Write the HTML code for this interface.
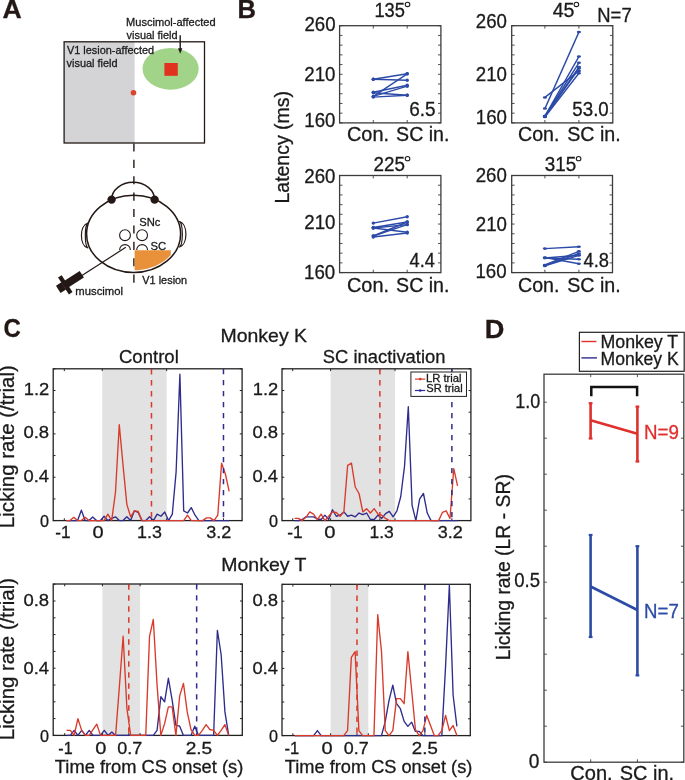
<!DOCTYPE html>
<html><head><meta charset="utf-8"><style>
html,body{margin:0;padding:0;background:#fff;}
svg{display:block;will-change:transform;}
text{font-family:"Liberation Sans",sans-serif;stroke-width:0.3px;}
</style></head><body>
<svg width="685" height="780" viewBox="0 0 685 780">
<rect width="685" height="780" fill="#fff"/>
<text x="2.54" y="17.8" font-size="25.5" fill="#231815" stroke="#231815" font-weight="bold" textLength="19.19" lengthAdjust="spacingAndGlyphs">A</text>
<rect x="64.1" y="41.8" width="70.5" height="101.2" fill="#d4d4d7"/>
<rect x="64.1" y="41.8" width="140.4" height="101.2" fill="none" stroke="#231815" stroke-width="1.3"/>
<ellipse cx="170.6" cy="68.8" rx="28.1" ry="20.9" fill="#a1d488"/>
<rect x="164.4" y="63" width="13.4" height="12.8" fill="#e0321f"/>
<circle cx="133.5" cy="92.7" r="2.8" fill="#d9452a"/>
<text x="66.95" y="54.2" font-size="11.6" fill="#1a1a1a" stroke="#1a1a1a" textLength="87.19" lengthAdjust="spacingAndGlyphs">V1 lesion-affected</text>
<text x="66.55" y="66.7" font-size="11.6" fill="#1a1a1a" stroke="#1a1a1a" textLength="51.06" lengthAdjust="spacingAndGlyphs">visual field</text>
<text x="126.12" y="26.2" font-size="11.6" fill="#1a1a1a" stroke="#1a1a1a" textLength="89.51" lengthAdjust="spacingAndGlyphs">Muscimol-affected</text>
<text x="126.55" y="38.7" font-size="11.6" fill="#1a1a1a" stroke="#1a1a1a" textLength="51.06" lengthAdjust="spacingAndGlyphs">visual field</text>
<line x1="180.2" y1="35.3" x2="180.2" y2="49" stroke="#231815" stroke-width="1.4"/>
<path d="M178.0,48.3 L182.4,48.3 L180.2,53.8 Z" fill="#231815"/>
<line x1="133.9" y1="143.4" x2="133.9" y2="282.9" stroke="#231815" stroke-width="1.4" stroke-dasharray="8.1 8.3"/>
<path d="M111.6,199.6 A21.5,17.3 0 0 1 154.6,199.6" fill="none" stroke="#231815" stroke-width="1.4"/>
<ellipse cx="133.6" cy="233.9" rx="47.0" ry="38.6" fill="none" stroke="#231815" stroke-width="1.5"/>
<path d="M87.8,223 C79.3,225.5 79.3,245.5 87.8,248 C84.5,245.5 84.5,225.5 87.8,223 Z" fill="none" stroke="#231815" stroke-width="1.2" stroke-linejoin="round"/>
<path d="M179.6,221.5 C188.0,224 188.0,244.5 179.6,247 C183.2,244.5 183.2,224 179.6,221.5 Z" fill="none" stroke="#231815" stroke-width="1.2" stroke-linejoin="round"/>
<circle cx="111.6" cy="199.6" r="4.2" fill="#231815"/>
<circle cx="154.6" cy="199.6" r="4.2" fill="#231815"/>
<path d="M134.60,250.20 L170.80,250.20 L170.80,254.95 L170.18,255.64 L169.53,256.31 L168.87,256.97 L168.18,257.62 L167.48,258.26 L166.76,258.88 L166.02,259.50 L165.27,260.09 L164.49,260.67 L163.70,261.24 L162.90,261.79 L162.08,262.33 L161.24,262.85 L160.39,263.36 L159.52,263.85 L158.64,264.32 L157.74,264.78 L156.83,265.22 L155.91,265.64 L154.98,266.05 L154.04,266.44 L153.08,266.81 L152.11,267.16 L151.14,267.50 L150.15,267.82 L149.16,268.12 L148.16,268.40 L147.14,268.66 L146.13,268.90 L145.10,269.12 L144.07,269.33 L143.03,269.51 L141.99,269.68 L140.94,269.82 L139.89,269.95 L138.84,270.06 L137.78,270.15 L136.72,270.21 L135.66,270.26 L134.60,270.29 Z" fill="#e8913a"/>
<circle cx="125.0" cy="235.2" r="5.4" fill="none" stroke="#231815" stroke-width="1.1"/>
<path d="M119.60,250.0 A5.4,5.4 0 0 1 130.40,250.0" fill="none" stroke="#231815" stroke-width="1.1"/>
<circle cx="142.1" cy="235.2" r="5.4" fill="none" stroke="#231815" stroke-width="1.1"/>
<path d="M136.70,250.0 A5.4,5.4 0 0 1 147.50,250.0" fill="none" stroke="#231815" stroke-width="1.1"/>
<line x1="125.8" y1="247.3" x2="80" y2="276.8" stroke="#231815" stroke-width="1.2"/>
<g transform="translate(81.8,274.2) rotate(147.2)" fill="#231815">
<rect x="0" y="-3.9" width="19.5" height="7.8"/>
<rect x="17.5" y="-10" width="4.3" height="20"/>
<rect x="21.5" y="-4.2" width="6.5" height="8.4"/>
</g>
<text x="139.20" y="225.8" font-size="11.0" fill="#1a1a1a" stroke="#1a1a1a" textLength="21.18" lengthAdjust="spacingAndGlyphs">SNc</text>
<text x="150.59" y="249.5" font-size="11.0" fill="#1a1a1a" stroke="#1a1a1a" textLength="15.65" lengthAdjust="spacingAndGlyphs">SC</text>
<text x="142.35" y="283.6" font-size="11.0" fill="#1a1a1a" stroke="#1a1a1a" textLength="44.85" lengthAdjust="spacingAndGlyphs">V1 lesion</text>
<text x="75.37" y="294.7" font-size="11.0" fill="#1a1a1a" stroke="#1a1a1a" textLength="47.60" lengthAdjust="spacingAndGlyphs">muscimol</text>
<text x="237.64" y="17.7" font-size="25.5" fill="#231815" stroke="#231815" font-weight="bold" textLength="18.47" lengthAdjust="spacingAndGlyphs">B</text>
<path d="M339.6,25.70 h2.9 M440.9,25.70 h-2.9 M339.6,35.42 h2.9 M440.9,35.42 h-2.9 M339.6,45.14 h2.9 M440.9,45.14 h-2.9 M339.6,54.86 h2.9 M440.9,54.86 h-2.9 M339.6,64.58 h2.9 M440.9,64.58 h-2.9 M339.6,74.30 h2.9 M440.9,74.30 h-2.9 M339.6,84.02 h2.9 M440.9,84.02 h-2.9 M339.6,93.74 h2.9 M440.9,93.74 h-2.9 M339.6,103.46 h2.9 M440.9,103.46 h-2.9 M339.6,113.18 h2.9 M440.9,113.18 h-2.9 M339.6,122.90 h2.9 M440.9,122.90 h-2.9 M373.3,25.7 v2.9 M373.3,122.9 v-2.9 M407.2,25.7 v2.9 M407.2,122.9 v-2.9" stroke="#3c3c3c" stroke-width="0.9" fill="none"/>
<rect x="339.6" y="25.7" width="101.3" height="97.2" fill="none" stroke="#3c3c3c" stroke-width="1.3"/>
<line x1="373.3" y1="79.2" x2="407.2" y2="73.8" stroke="#2c4ba8" stroke-width="1.4"/>
<line x1="373.3" y1="79.2" x2="407.2" y2="80.2" stroke="#2c4ba8" stroke-width="1.4"/>
<line x1="373.3" y1="96.4" x2="407.2" y2="73.8" stroke="#2c4ba8" stroke-width="1.4"/>
<line x1="373.3" y1="92.2" x2="407.2" y2="85.3" stroke="#2c4ba8" stroke-width="1.4"/>
<line x1="373.3" y1="96.4" x2="407.2" y2="86.2" stroke="#2c4ba8" stroke-width="1.4"/>
<line x1="373.3" y1="92.7" x2="407.2" y2="95.3" stroke="#2c4ba8" stroke-width="1.4"/>
<line x1="373.3" y1="97.1" x2="407.2" y2="95.3" stroke="#2c4ba8" stroke-width="1.4"/>
<ellipse cx="373.3" cy="79.2" rx="1.7" ry="1.7" fill="#2c4ba8"/><ellipse cx="407.2" cy="73.8" rx="1.7" ry="1.7" fill="#2c4ba8"/>
<ellipse cx="373.3" cy="79.2" rx="1.7" ry="1.7" fill="#2c4ba8"/><ellipse cx="407.2" cy="80.2" rx="1.7" ry="1.7" fill="#2c4ba8"/>
<ellipse cx="373.3" cy="96.4" rx="1.7" ry="1.7" fill="#2c4ba8"/><ellipse cx="407.2" cy="73.8" rx="1.7" ry="1.7" fill="#2c4ba8"/>
<ellipse cx="373.3" cy="92.2" rx="1.7" ry="1.7" fill="#2c4ba8"/><ellipse cx="407.2" cy="85.3" rx="1.7" ry="1.7" fill="#2c4ba8"/>
<ellipse cx="373.3" cy="96.4" rx="1.7" ry="1.7" fill="#2c4ba8"/><ellipse cx="407.2" cy="86.2" rx="1.7" ry="1.7" fill="#2c4ba8"/>
<ellipse cx="373.3" cy="92.7" rx="1.7" ry="1.7" fill="#2c4ba8"/><ellipse cx="407.2" cy="95.3" rx="1.7" ry="1.7" fill="#2c4ba8"/>
<ellipse cx="373.3" cy="97.1" rx="1.7" ry="1.7" fill="#2c4ba8"/><ellipse cx="407.2" cy="95.3" rx="1.7" ry="1.7" fill="#2c4ba8"/>
<path d="M511.7,25.70 h2.9 M612.8,25.70 h-2.9 M511.7,35.42 h2.9 M612.8,35.42 h-2.9 M511.7,45.14 h2.9 M612.8,45.14 h-2.9 M511.7,54.86 h2.9 M612.8,54.86 h-2.9 M511.7,64.58 h2.9 M612.8,64.58 h-2.9 M511.7,74.30 h2.9 M612.8,74.30 h-2.9 M511.7,84.02 h2.9 M612.8,84.02 h-2.9 M511.7,93.74 h2.9 M612.8,93.74 h-2.9 M511.7,103.46 h2.9 M612.8,103.46 h-2.9 M511.7,113.18 h2.9 M612.8,113.18 h-2.9 M511.7,122.90 h2.9 M612.8,122.90 h-2.9 M544.9,25.7 v2.9 M544.9,122.9 v-2.9 M578.9,25.7 v2.9 M578.9,122.9 v-2.9" stroke="#3c3c3c" stroke-width="0.9" fill="none"/>
<rect x="511.7" y="25.7" width="101.1" height="97.2" fill="none" stroke="#3c3c3c" stroke-width="1.3"/>
<line x1="544.9" y1="108.6" x2="578.9" y2="32.1" stroke="#2c4ba8" stroke-width="1.4"/>
<line x1="544.9" y1="97.4" x2="578.9" y2="70.9" stroke="#2c4ba8" stroke-width="1.4"/>
<line x1="544.9" y1="116" x2="578.9" y2="56.6" stroke="#2c4ba8" stroke-width="1.4"/>
<line x1="544.9" y1="116" x2="578.9" y2="62.8" stroke="#2c4ba8" stroke-width="1.4"/>
<line x1="544.9" y1="116.5" x2="578.9" y2="67.1" stroke="#2c4ba8" stroke-width="1.4"/>
<line x1="544.9" y1="116.5" x2="578.9" y2="68.5" stroke="#2c4ba8" stroke-width="1.4"/>
<line x1="544.9" y1="117" x2="578.9" y2="73.2" stroke="#2c4ba8" stroke-width="1.4"/>
<ellipse cx="544.9" cy="108.6" rx="2.1" ry="1.25" fill="#2c4ba8"/><ellipse cx="578.9" cy="32.1" rx="2.1" ry="1.25" fill="#2c4ba8"/>
<ellipse cx="544.9" cy="97.4" rx="2.1" ry="1.25" fill="#2c4ba8"/><ellipse cx="578.9" cy="70.9" rx="2.1" ry="1.25" fill="#2c4ba8"/>
<ellipse cx="544.9" cy="116" rx="2.1" ry="1.25" fill="#2c4ba8"/><ellipse cx="578.9" cy="56.6" rx="2.1" ry="1.25" fill="#2c4ba8"/>
<ellipse cx="544.9" cy="116" rx="2.1" ry="1.25" fill="#2c4ba8"/><ellipse cx="578.9" cy="62.8" rx="2.1" ry="1.25" fill="#2c4ba8"/>
<ellipse cx="544.9" cy="116.5" rx="2.1" ry="1.25" fill="#2c4ba8"/><ellipse cx="578.9" cy="67.1" rx="2.1" ry="1.25" fill="#2c4ba8"/>
<ellipse cx="544.9" cy="116.5" rx="2.1" ry="1.25" fill="#2c4ba8"/><ellipse cx="578.9" cy="68.5" rx="2.1" ry="1.25" fill="#2c4ba8"/>
<ellipse cx="544.9" cy="117" rx="2.1" ry="1.25" fill="#2c4ba8"/><ellipse cx="578.9" cy="73.2" rx="2.1" ry="1.25" fill="#2c4ba8"/>
<path d="M339.6,175.50 h2.9 M440.9,175.50 h-2.9 M339.6,185.21 h2.9 M440.9,185.21 h-2.9 M339.6,194.92 h2.9 M440.9,194.92 h-2.9 M339.6,204.63 h2.9 M440.9,204.63 h-2.9 M339.6,214.34 h2.9 M440.9,214.34 h-2.9 M339.6,224.05 h2.9 M440.9,224.05 h-2.9 M339.6,233.76 h2.9 M440.9,233.76 h-2.9 M339.6,243.47 h2.9 M440.9,243.47 h-2.9 M339.6,253.18 h2.9 M440.9,253.18 h-2.9 M339.6,262.89 h2.9 M440.9,262.89 h-2.9 M339.6,272.60 h2.9 M440.9,272.60 h-2.9 M373.3,175.5 v2.9 M373.3,272.6 v-2.9 M407.2,175.5 v2.9 M407.2,272.6 v-2.9" stroke="#3c3c3c" stroke-width="0.9" fill="none"/>
<rect x="339.6" y="175.5" width="101.3" height="97.1" fill="none" stroke="#3c3c3c" stroke-width="1.3"/>
<line x1="373.3" y1="223.1" x2="407.2" y2="216.7" stroke="#2c4ba8" stroke-width="1.4"/>
<line x1="373.3" y1="227.5" x2="407.2" y2="222" stroke="#2c4ba8" stroke-width="1.4"/>
<line x1="373.3" y1="228" x2="407.2" y2="232.3" stroke="#2c4ba8" stroke-width="1.4"/>
<line x1="373.3" y1="236" x2="407.2" y2="222" stroke="#2c4ba8" stroke-width="1.4"/>
<line x1="373.3" y1="236" x2="407.2" y2="224.6" stroke="#2c4ba8" stroke-width="1.4"/>
<line x1="373.3" y1="237" x2="407.2" y2="233" stroke="#2c4ba8" stroke-width="1.4"/>
<line x1="373.3" y1="228" x2="407.2" y2="224.6" stroke="#2c4ba8" stroke-width="1.4"/>
<ellipse cx="373.3" cy="223.1" rx="1.7" ry="1.7" fill="#2c4ba8"/><ellipse cx="407.2" cy="216.7" rx="1.7" ry="1.7" fill="#2c4ba8"/>
<ellipse cx="373.3" cy="227.5" rx="1.7" ry="1.7" fill="#2c4ba8"/><ellipse cx="407.2" cy="222" rx="1.7" ry="1.7" fill="#2c4ba8"/>
<ellipse cx="373.3" cy="228" rx="1.7" ry="1.7" fill="#2c4ba8"/><ellipse cx="407.2" cy="232.3" rx="1.7" ry="1.7" fill="#2c4ba8"/>
<ellipse cx="373.3" cy="236" rx="1.7" ry="1.7" fill="#2c4ba8"/><ellipse cx="407.2" cy="222" rx="1.7" ry="1.7" fill="#2c4ba8"/>
<ellipse cx="373.3" cy="236" rx="1.7" ry="1.7" fill="#2c4ba8"/><ellipse cx="407.2" cy="224.6" rx="1.7" ry="1.7" fill="#2c4ba8"/>
<ellipse cx="373.3" cy="237" rx="1.7" ry="1.7" fill="#2c4ba8"/><ellipse cx="407.2" cy="233" rx="1.7" ry="1.7" fill="#2c4ba8"/>
<ellipse cx="373.3" cy="228" rx="1.7" ry="1.7" fill="#2c4ba8"/><ellipse cx="407.2" cy="224.6" rx="1.7" ry="1.7" fill="#2c4ba8"/>
<path d="M511.7,175.50 h2.9 M612.5,175.50 h-2.9 M511.7,185.21 h2.9 M612.5,185.21 h-2.9 M511.7,194.92 h2.9 M612.5,194.92 h-2.9 M511.7,204.63 h2.9 M612.5,204.63 h-2.9 M511.7,214.34 h2.9 M612.5,214.34 h-2.9 M511.7,224.05 h2.9 M612.5,224.05 h-2.9 M511.7,233.76 h2.9 M612.5,233.76 h-2.9 M511.7,243.47 h2.9 M612.5,243.47 h-2.9 M511.7,253.18 h2.9 M612.5,253.18 h-2.9 M511.7,262.89 h2.9 M612.5,262.89 h-2.9 M511.7,272.60 h2.9 M612.5,272.60 h-2.9 M544.9,175.5 v2.9 M544.9,272.6 v-2.9 M578.9,175.5 v2.9 M578.9,272.6 v-2.9" stroke="#3c3c3c" stroke-width="0.9" fill="none"/>
<rect x="511.7" y="175.5" width="100.8" height="97.1" fill="none" stroke="#3c3c3c" stroke-width="1.3"/>
<line x1="544.9" y1="248.6" x2="578.9" y2="246.7" stroke="#2c4ba8" stroke-width="1.4"/>
<line x1="544.9" y1="257.5" x2="578.9" y2="263.7" stroke="#2c4ba8" stroke-width="1.4"/>
<line x1="544.9" y1="258" x2="578.9" y2="255.3" stroke="#2c4ba8" stroke-width="1.4"/>
<line x1="544.9" y1="258" x2="578.9" y2="259.3" stroke="#2c4ba8" stroke-width="1.4"/>
<line x1="544.9" y1="265" x2="578.9" y2="251.3" stroke="#2c4ba8" stroke-width="1.4"/>
<line x1="544.9" y1="265.5" x2="578.9" y2="253.5" stroke="#2c4ba8" stroke-width="1.4"/>
<line x1="544.9" y1="265.9" x2="578.9" y2="255.3" stroke="#2c4ba8" stroke-width="1.4"/>
<ellipse cx="544.9" cy="248.6" rx="2.0" ry="1.3" fill="#2c4ba8"/><ellipse cx="578.9" cy="246.7" rx="2.0" ry="1.3" fill="#2c4ba8"/>
<ellipse cx="544.9" cy="257.5" rx="2.0" ry="1.3" fill="#2c4ba8"/><ellipse cx="578.9" cy="263.7" rx="2.0" ry="1.3" fill="#2c4ba8"/>
<ellipse cx="544.9" cy="258" rx="2.0" ry="1.3" fill="#2c4ba8"/><ellipse cx="578.9" cy="255.3" rx="2.0" ry="1.3" fill="#2c4ba8"/>
<ellipse cx="544.9" cy="258" rx="2.0" ry="1.3" fill="#2c4ba8"/><ellipse cx="578.9" cy="259.3" rx="2.0" ry="1.3" fill="#2c4ba8"/>
<ellipse cx="544.9" cy="265" rx="2.0" ry="1.3" fill="#2c4ba8"/><ellipse cx="578.9" cy="251.3" rx="2.0" ry="1.3" fill="#2c4ba8"/>
<ellipse cx="544.9" cy="265.5" rx="2.0" ry="1.3" fill="#2c4ba8"/><ellipse cx="578.9" cy="253.5" rx="2.0" ry="1.3" fill="#2c4ba8"/>
<ellipse cx="544.9" cy="265.9" rx="2.0" ry="1.3" fill="#2c4ba8"/><ellipse cx="578.9" cy="255.3" rx="2.0" ry="1.3" fill="#2c4ba8"/>
<text x="304.45" y="30.6" font-size="19.6" fill="#1a1a1a" stroke="#1a1a1a" textLength="31.17" lengthAdjust="spacingAndGlyphs">260</text>
<text x="304.35" y="80.5" font-size="19.6" fill="#1a1a1a" stroke="#1a1a1a" textLength="31.17" lengthAdjust="spacingAndGlyphs">210</text>
<text x="304.35" y="127.1" font-size="19.6" fill="#1a1a1a" stroke="#1a1a1a" textLength="31.17" lengthAdjust="spacingAndGlyphs">160</text>
<text x="304.25" y="182.6" font-size="19.6" fill="#1a1a1a" stroke="#1a1a1a" textLength="31.17" lengthAdjust="spacingAndGlyphs">260</text>
<text x="304.35" y="229.0" font-size="19.6" fill="#1a1a1a" stroke="#1a1a1a" textLength="31.17" lengthAdjust="spacingAndGlyphs">210</text>
<text x="304.05" y="278.9" font-size="19.6" fill="#1a1a1a" stroke="#1a1a1a" textLength="31.17" lengthAdjust="spacingAndGlyphs">160</text>
<text x="475.85" y="27.8" font-size="19.6" fill="#1a1a1a" stroke="#1a1a1a" textLength="31.17" lengthAdjust="spacingAndGlyphs">260</text>
<text x="475.75" y="80.5" font-size="19.6" fill="#1a1a1a" stroke="#1a1a1a" textLength="31.17" lengthAdjust="spacingAndGlyphs">210</text>
<text x="475.75" y="124.4" font-size="19.6" fill="#1a1a1a" stroke="#1a1a1a" textLength="31.17" lengthAdjust="spacingAndGlyphs">160</text>
<text x="475.65" y="182.2" font-size="19.6" fill="#1a1a1a" stroke="#1a1a1a" textLength="31.17" lengthAdjust="spacingAndGlyphs">260</text>
<text x="475.75" y="231.1" font-size="19.6" fill="#1a1a1a" stroke="#1a1a1a" textLength="31.17" lengthAdjust="spacingAndGlyphs">210</text>
<text x="475.45" y="278.4" font-size="19.6" fill="#1a1a1a" stroke="#1a1a1a" textLength="31.17" lengthAdjust="spacingAndGlyphs">160</text>
<text x="374.43" y="16.6" font-size="19.6" fill="#1a1a1a" stroke="#1a1a1a" textLength="30.57" lengthAdjust="spacingAndGlyphs">135</text>
<text x="552.71" y="16.6" font-size="19.6" fill="#1a1a1a" stroke="#1a1a1a" textLength="21.82" lengthAdjust="spacingAndGlyphs">45</text>
<text x="373.56" y="171.3" font-size="19.6" fill="#1a1a1a" stroke="#1a1a1a" textLength="31.46" lengthAdjust="spacingAndGlyphs">225</text>
<text x="544.85" y="171.3" font-size="19.6" fill="#1a1a1a" stroke="#1a1a1a" textLength="31.48" lengthAdjust="spacingAndGlyphs">315</text>
<ellipse cx="407.55" cy="4.4" rx="2.3" ry="2.2" fill="none" stroke="#1a1a1a" stroke-width="1.05"/>
<ellipse cx="576.4" cy="4.4" rx="2.3" ry="2.2" fill="none" stroke="#1a1a1a" stroke-width="1.05"/>
<ellipse cx="407.55" cy="158.65" rx="2.3" ry="2.2" fill="none" stroke="#1a1a1a" stroke-width="1.05"/>
<ellipse cx="578.6" cy="158.65" rx="2.3" ry="2.2" fill="none" stroke="#1a1a1a" stroke-width="1.05"/>
<text x="597.32" y="22.3" font-size="19.4" fill="#1a1a1a" stroke="#1a1a1a" textLength="34.34" lengthAdjust="spacingAndGlyphs">N=7</text>
<text x="409.25" y="116.1" font-size="19.6" fill="#1a1a1a" stroke="#1a1a1a" textLength="26.41" lengthAdjust="spacingAndGlyphs">6.5</text>
<text x="572.35" y="116.1" font-size="19.6" fill="#1a1a1a" stroke="#1a1a1a" textLength="36.43" lengthAdjust="spacingAndGlyphs">53.0</text>
<text x="409.54" y="267.4" font-size="19.6" fill="#1a1a1a" stroke="#1a1a1a" textLength="25.31" lengthAdjust="spacingAndGlyphs">4.4</text>
<text x="583.53" y="267.4" font-size="19.6" fill="#1a1a1a" stroke="#1a1a1a" textLength="25.50" lengthAdjust="spacingAndGlyphs">4.8</text>
<text x="347.01" y="140.6" font-size="19.4" fill="#1a1a1a" stroke="#1a1a1a" textLength="42.03" lengthAdjust="spacingAndGlyphs">Con.</text>
<text x="396.12" y="140.6" font-size="19.4" fill="#1a1a1a" stroke="#1a1a1a" textLength="53.31" lengthAdjust="spacingAndGlyphs">SC in.</text>
<text x="518.02" y="140.6" font-size="19.4" fill="#1a1a1a" stroke="#1a1a1a" textLength="41.39" lengthAdjust="spacingAndGlyphs">Con.</text>
<text x="567.22" y="140.6" font-size="19.4" fill="#1a1a1a" stroke="#1a1a1a" textLength="53.52" lengthAdjust="spacingAndGlyphs">SC in.</text>
<text x="347.01" y="291.9" font-size="19.4" fill="#1a1a1a" stroke="#1a1a1a" textLength="42.03" lengthAdjust="spacingAndGlyphs">Con.</text>
<text x="396.12" y="291.9" font-size="19.4" fill="#1a1a1a" stroke="#1a1a1a" textLength="53.31" lengthAdjust="spacingAndGlyphs">SC in.</text>
<text x="518.02" y="291.9" font-size="19.4" fill="#1a1a1a" stroke="#1a1a1a" textLength="41.39" lengthAdjust="spacingAndGlyphs">Con.</text>
<text x="567.22" y="291.9" font-size="19.4" fill="#1a1a1a" stroke="#1a1a1a" textLength="53.52" lengthAdjust="spacingAndGlyphs">SC in.</text>
<text transform="translate(288.9,203.45) rotate(-90)" x="0" y="0" font-size="20" fill="#1a1a1a" stroke="#1a1a1a" textLength="112.31" lengthAdjust="spacingAndGlyphs">Latency (ms)</text>
<text x="3.44" y="337.1" font-size="25.5" fill="#231815" stroke="#231815" font-weight="bold" textLength="17.31" lengthAdjust="spacingAndGlyphs">C</text>
<text x="220.44" y="341.7" font-size="19.0" fill="#1a1a1a" stroke="#1a1a1a" textLength="86.58" lengthAdjust="spacingAndGlyphs">Monkey K</text>
<text x="118.97" y="363.4" font-size="18.7" fill="#1a1a1a" stroke="#1a1a1a" textLength="59.80" lengthAdjust="spacingAndGlyphs">Control</text>
<text x="322.87" y="363.2" font-size="18.7" fill="#1a1a1a" stroke="#1a1a1a" textLength="122.62" lengthAdjust="spacingAndGlyphs">SC inactivation</text>
<text x="221.24" y="571.0" font-size="19.0" fill="#1a1a1a" stroke="#1a1a1a" textLength="85.19" lengthAdjust="spacingAndGlyphs">Monkey T</text>
<rect x="102.20" y="368.8" width="64.43" height="151.8" fill="#e2e2e2"/>
<path d="M53.2,520.60 h2.3 M242.1,520.60 h-2.3 M53.2,498.92 h2.3 M242.1,498.92 h-2.3 M53.2,477.24 h2.3 M242.1,477.24 h-2.3 M53.2,455.56 h2.3 M242.1,455.56 h-2.3 M53.2,433.88 h2.3 M242.1,433.88 h-2.3 M53.2,412.20 h2.3 M242.1,412.20 h-2.3 M53.2,390.52 h2.3 M242.1,390.52 h-2.3 M53.2,368.84 h2.3 M242.1,368.84 h-2.3 M64.30,368.8 v2.3 M64.30,520.6 v-2.3 M102.20,368.8 v2.3 M102.20,520.6 v-2.3 M151.47,368.8 v2.3 M151.47,520.6 v-2.3 M166.63,368.8 v2.3 M166.63,520.6 v-2.3 M223.48,368.8 v2.3 M223.48,520.6 v-2.3" stroke="#222" stroke-width="1" fill="none"/>
<rect x="53.2" y="368.8" width="188.9" height="151.8" fill="none" stroke="#222" stroke-width="1.3"/>
<polyline points="66.20,520.60 69.99,520.60 73.78,520.60 77.57,520.60 81.36,510.19 85.15,520.60 88.94,520.60 92.73,517.02 96.52,520.60 100.31,520.60 104.09,516.26 107.89,520.60 111.68,518.43 115.47,516.81 119.26,520.60 123.05,520.60 126.84,516.81 130.62,520.60 134.42,510.84 138.21,512.47 142.00,520.60 145.78,520.60 149.58,516.81 153.37,520.60 157.16,514.10 160.94,516.26 164.74,511.93 168.53,520.60 172.31,514.10 176.11,471.82 179.89,374.26 183.69,510.84 187.47,513.01 191.27,507.59 195.06,515.18 198.84,520.60 202.64,520.60 206.43,520.60 210.22,520.60 214.00,520.60 217.79,520.60 221.59,520.60 225.38,520.60 229.16,520.60" fill="none" stroke="#2e2c8c" stroke-width="1.35" stroke-linejoin="round"/>
<polyline points="66.20,520.60 69.99,520.60 73.78,517.35 77.57,520.60 81.36,520.60 85.15,517.35 88.94,520.60 92.73,520.60 96.52,520.60 100.31,520.60 104.09,520.60 107.89,514.10 111.68,520.60 115.47,492.42 119.26,424.67 123.05,465.32 126.84,504.34 130.62,516.81 134.42,510.84 138.21,511.39 142.00,520.60 145.78,520.60 149.58,520.60 153.37,520.60 157.16,520.60 160.94,520.60 164.74,520.60 168.53,520.60 172.31,520.60 176.11,520.60 179.89,520.60 183.69,520.60 187.47,515.18 191.27,520.60 195.06,520.60 198.84,520.60 202.64,520.60 206.43,517.89 210.22,517.89 214.00,520.60 217.79,515.18 221.59,463.15 225.38,473.99 229.16,491.33" fill="none" stroke="#d93a2b" stroke-width="1.35" stroke-linejoin="round"/>
<line x1="151.47" y1="369.1" x2="151.47" y2="520.6" stroke="#d93a2b" stroke-width="1.5" stroke-dasharray="5.5 5.5"/>
<line x1="223.48" y1="369.1" x2="223.48" y2="520.6" stroke="#2e2c8c" stroke-width="1.5" stroke-dasharray="5.2 5.8"/>
<rect x="330.60" y="368.8" width="64.43" height="151.8" fill="#e2e2e2"/>
<path d="M282.0,520.60 h2.3 M470.9,520.60 h-2.3 M282.0,498.92 h2.3 M470.9,498.92 h-2.3 M282.0,477.24 h2.3 M470.9,477.24 h-2.3 M282.0,455.56 h2.3 M470.9,455.56 h-2.3 M282.0,433.88 h2.3 M470.9,433.88 h-2.3 M282.0,412.20 h2.3 M470.9,412.20 h-2.3 M282.0,390.52 h2.3 M470.9,390.52 h-2.3 M282.0,368.84 h2.3 M470.9,368.84 h-2.3 M292.70,368.8 v2.3 M292.70,520.6 v-2.3 M330.60,368.8 v2.3 M330.60,520.6 v-2.3 M379.87,368.8 v2.3 M379.87,520.6 v-2.3 M395.03,368.8 v2.3 M395.03,520.6 v-2.3 M451.88,368.8 v2.3 M451.88,520.6 v-2.3" stroke="#222" stroke-width="1" fill="none"/>
<rect x="282.0" y="368.8" width="188.9" height="151.8" fill="none" stroke="#222" stroke-width="1.3"/>
<polyline points="294.60,520.60 298.39,520.60 302.18,519.52 305.97,516.81 309.76,516.81 313.55,516.81 317.34,518.97 321.12,519.52 324.92,515.18 328.71,519.52 332.50,509.76 336.29,516.26 340.08,515.18 343.87,511.93 347.66,516.26 351.45,515.18 355.24,516.81 359.03,513.01 362.82,514.64 366.61,513.01 370.40,519.52 374.19,519.52 377.98,515.18 381.77,518.43 385.56,513.55 389.35,511.39 393.14,516.81 396.93,510.84 400.72,496.75 404.51,466.40 408.30,406.78 412.09,505.42 415.88,520.60 419.67,498.92 423.46,493.50 427.25,513.01 431.04,520.60 434.83,520.60 438.62,520.60 442.41,520.60 446.19,520.60 449.99,520.60 453.78,520.60 457.56,520.60" fill="none" stroke="#2e2c8c" stroke-width="1.35" stroke-linejoin="round"/>
<polyline points="294.60,518.43 298.39,518.43 302.18,520.60 305.97,517.35 309.76,511.93 313.55,514.10 317.34,519.52 321.12,514.10 324.92,520.60 328.71,516.26 332.50,511.93 336.29,512.47 340.08,516.26 343.87,511.93 347.66,465.32 351.45,463.15 355.24,487.00 359.03,493.50 362.82,511.93 366.61,508.68 370.40,513.01 374.19,508.68 377.98,514.10 381.77,515.18 385.56,518.43 389.35,520.60 393.14,520.60 396.93,520.60 400.72,520.60 404.51,520.60 408.30,520.60 412.09,520.60 415.88,520.60 419.67,520.60 423.46,520.60 427.25,520.60 431.04,520.60 434.83,520.60 438.62,520.60 442.41,512.47 446.19,510.84 449.99,518.43 453.78,468.57 457.56,485.91" fill="none" stroke="#d93a2b" stroke-width="1.35" stroke-linejoin="round"/>
<line x1="379.87" y1="369.1" x2="379.87" y2="520.6" stroke="#d93a2b" stroke-width="1.5" stroke-dasharray="5.5 5.5"/>
<line x1="451.88" y1="369.1" x2="451.88" y2="520.6" stroke="#2e2c8c" stroke-width="1.5" stroke-dasharray="5.2 5.8"/>
<rect x="102.40" y="584.0" width="37.70" height="151.39999999999998" fill="#e2e2e2"/>
<path d="M53.2,735.40 h2.3 M242.3,735.40 h-2.3 M53.2,718.60 h2.3 M242.3,718.60 h-2.3 M53.2,701.80 h2.3 M242.3,701.80 h-2.3 M53.2,685.00 h2.3 M242.3,685.00 h-2.3 M53.2,668.20 h2.3 M242.3,668.20 h-2.3 M53.2,651.40 h2.3 M242.3,651.40 h-2.3 M53.2,634.60 h2.3 M242.3,634.60 h-2.3 M53.2,617.80 h2.3 M242.3,617.80 h-2.3 M53.2,601.00 h2.3 M242.3,601.00 h-2.3 M53.2,584.20 h2.3 M242.3,584.20 h-2.3 M64.70,584.0 v2.3 M64.70,735.4 v-2.3 M102.40,584.0 v2.3 M102.40,735.4 v-2.3 M128.79,584.0 v2.3 M128.79,735.4 v-2.3 M140.10,584.0 v2.3 M140.10,735.4 v-2.3 M196.65,584.0 v2.3 M196.65,735.4 v-2.3" stroke="#222" stroke-width="1" fill="none"/>
<rect x="53.2" y="584.0" width="189.1" height="151.4" fill="none" stroke="#222" stroke-width="1.3"/>
<polyline points="66.59,735.40 70.36,735.40 74.12,730.36 77.90,735.40 81.67,730.36 85.44,735.40 89.21,730.36 92.98,735.40 96.75,735.40 100.52,735.40 104.29,730.36 108.06,735.40 111.83,732.04 115.60,735.40 119.37,735.40 123.14,735.40 126.91,735.40 130.68,735.40 134.45,735.40 138.22,735.40 141.99,735.40 145.76,735.40 149.53,735.40 153.30,735.40 157.07,730.36 160.84,696.76 164.61,701.80 168.38,678.28 172.15,700.12 175.92,725.32 179.69,726.16 183.46,735.40 187.23,735.40 191.00,735.40 194.77,726.16 198.54,735.40 202.31,735.40 206.08,735.40 209.85,735.40 213.62,735.40 217.38,630.40 221.16,654.76 224.93,711.88 228.69,735.40" fill="none" stroke="#2e2c8c" stroke-width="1.35" stroke-linejoin="round"/>
<polyline points="66.59,730.36 70.36,730.36 74.12,735.40 77.90,718.60 81.67,730.36 85.44,735.40 89.21,735.40 92.98,729.69 96.75,724.14 100.52,735.40 104.29,735.40 108.06,735.40 111.83,735.40 115.60,735.40 119.37,686.68 123.14,636.28 126.91,708.52 130.68,735.40 134.45,735.40 138.22,735.40 141.99,735.40 145.76,735.40 149.53,636.28 153.30,619.48 157.07,685.00 160.84,735.40 164.61,723.64 168.38,706.84 172.15,706.84 175.92,735.40 179.69,695.92 183.46,683.32 187.23,711.88 191.00,729.52 194.77,735.40 198.54,735.40 202.31,730.36 206.08,724.65 209.85,729.52 213.62,730.36 217.38,735.40 221.16,730.36 224.93,724.65 228.69,735.40" fill="none" stroke="#d93a2b" stroke-width="1.35" stroke-linejoin="round"/>
<line x1="128.79" y1="584.3" x2="128.79" y2="735.4" stroke="#d93a2b" stroke-width="1.5" stroke-dasharray="5.5 5.5"/>
<line x1="196.65" y1="584.3" x2="196.65" y2="735.4" stroke="#2e2c8c" stroke-width="1.5" stroke-dasharray="5.2 5.8"/>
<rect x="330.60" y="584.3" width="37.70" height="151.30000000000007" fill="#e2e2e2"/>
<path d="M282.0,735.60 h2.3 M470.3,735.60 h-2.3 M282.0,718.80 h2.3 M470.3,718.80 h-2.3 M282.0,702.00 h2.3 M470.3,702.00 h-2.3 M282.0,685.20 h2.3 M470.3,685.20 h-2.3 M282.0,668.40 h2.3 M470.3,668.40 h-2.3 M282.0,651.60 h2.3 M470.3,651.60 h-2.3 M282.0,634.80 h2.3 M470.3,634.80 h-2.3 M282.0,618.00 h2.3 M470.3,618.00 h-2.3 M282.0,601.20 h2.3 M470.3,601.20 h-2.3 M282.0,584.40 h2.3 M470.3,584.40 h-2.3 M292.90,584.3 v2.3 M292.90,735.6 v-2.3 M330.60,584.3 v2.3 M330.60,735.6 v-2.3 M356.99,584.3 v2.3 M356.99,735.6 v-2.3 M368.30,584.3 v2.3 M368.30,735.6 v-2.3 M424.85,584.3 v2.3 M424.85,735.6 v-2.3" stroke="#222" stroke-width="1" fill="none"/>
<rect x="282.0" y="584.3" width="188.3" height="151.3" fill="none" stroke="#222" stroke-width="1.3"/>
<polyline points="294.79,735.60 298.56,735.60 302.33,735.60 306.10,735.60 309.87,735.60 313.64,735.60 317.41,730.56 321.18,735.60 324.95,735.60 328.72,735.60 332.49,735.60 336.26,735.60 340.03,735.60 343.80,735.60 347.57,735.60 351.34,735.60 355.11,735.60 358.88,735.60 362.65,735.60 366.42,735.60 370.19,735.60 373.96,735.60 377.73,735.60 381.50,735.60 385.27,721.32 389.04,700.32 392.81,685.20 396.58,703.68 400.35,708.72 404.12,721.32 407.88,726.36 411.66,722.16 415.43,731.40 419.20,731.40 422.97,735.60 426.74,735.60 430.51,735.60 434.28,735.60 438.05,735.60 441.82,735.60 445.59,665.88 449.36,585.24 453.12,695.28 456.90,726.36" fill="none" stroke="#2e2c8c" stroke-width="1.35" stroke-linejoin="round"/>
<polyline points="294.79,735.60 298.56,735.60 302.33,735.60 306.10,735.60 309.87,735.60 313.64,735.60 317.41,735.60 321.18,735.60 324.95,735.60 328.72,735.60 332.49,735.60 336.26,735.60 340.03,735.60 343.80,735.60 347.57,730.56 351.34,657.48 355.11,651.60 358.88,730.56 362.65,735.60 366.42,735.60 370.19,735.60 373.96,735.60 377.73,614.64 381.50,651.60 385.27,730.56 389.04,735.60 392.81,730.56 396.58,698.64 400.35,698.64 404.12,703.68 407.88,651.60 411.66,690.24 415.43,729.72 419.20,735.60 422.97,730.56 426.74,715.44 430.51,725.52 434.28,735.60 438.05,735.60 441.82,730.56 445.59,715.44 449.36,730.56 453.12,725.52 456.90,735.60" fill="none" stroke="#d93a2b" stroke-width="1.35" stroke-linejoin="round"/>
<line x1="356.99" y1="584.5999999999999" x2="356.99" y2="735.6" stroke="#d93a2b" stroke-width="1.5" stroke-dasharray="5.5 5.5"/>
<line x1="424.85" y1="584.5999999999999" x2="424.85" y2="735.6" stroke="#2e2c8c" stroke-width="1.5" stroke-dasharray="5.2 5.8"/>
<text x="23.82" y="394.8" font-size="17.2" fill="#1a1a1a" stroke="#1a1a1a" textLength="25.50" lengthAdjust="spacingAndGlyphs">1.2</text>
<text x="23.46" y="437.9" font-size="17.2" fill="#1a1a1a" stroke="#1a1a1a" textLength="25.68" lengthAdjust="spacingAndGlyphs">0.8</text>
<text x="23.47" y="482.2" font-size="17.2" fill="#1a1a1a" stroke="#1a1a1a" textLength="25.49" lengthAdjust="spacingAndGlyphs">0.4</text>
<text x="39.99" y="527.3" font-size="17.2" fill="#1a1a1a" stroke="#1a1a1a" textLength="8.99" lengthAdjust="spacingAndGlyphs">0</text>
<text x="23.46" y="606.3" font-size="17.2" fill="#1a1a1a" stroke="#1a1a1a" textLength="25.68" lengthAdjust="spacingAndGlyphs">0.8</text>
<text x="23.47" y="674.0" font-size="17.2" fill="#1a1a1a" stroke="#1a1a1a" textLength="25.49" lengthAdjust="spacingAndGlyphs">0.4</text>
<text x="39.99" y="742.3" font-size="17.2" fill="#1a1a1a" stroke="#1a1a1a" textLength="8.99" lengthAdjust="spacingAndGlyphs">0</text>
<text x="252.82" y="394.8" font-size="17.2" fill="#1a1a1a" stroke="#1a1a1a" textLength="25.50" lengthAdjust="spacingAndGlyphs">1.2</text>
<text x="252.46" y="437.9" font-size="17.2" fill="#1a1a1a" stroke="#1a1a1a" textLength="25.68" lengthAdjust="spacingAndGlyphs">0.8</text>
<text x="252.47" y="482.2" font-size="17.2" fill="#1a1a1a" stroke="#1a1a1a" textLength="25.49" lengthAdjust="spacingAndGlyphs">0.4</text>
<text x="268.99" y="527.3" font-size="17.2" fill="#1a1a1a" stroke="#1a1a1a" textLength="8.99" lengthAdjust="spacingAndGlyphs">0</text>
<text x="252.46" y="606.3" font-size="17.2" fill="#1a1a1a" stroke="#1a1a1a" textLength="25.68" lengthAdjust="spacingAndGlyphs">0.8</text>
<text x="252.47" y="674.0" font-size="17.2" fill="#1a1a1a" stroke="#1a1a1a" textLength="25.49" lengthAdjust="spacingAndGlyphs">0.4</text>
<text x="268.99" y="742.3" font-size="17.2" fill="#1a1a1a" stroke="#1a1a1a" textLength="8.99" lengthAdjust="spacingAndGlyphs">0</text>
<text x="55.33" y="537.6" font-size="17.2" fill="#1a1a1a" stroke="#1a1a1a" textLength="15.23" lengthAdjust="spacingAndGlyphs">-1</text>
<text x="92.40" y="537.6" font-size="17.2" fill="#1a1a1a" stroke="#1a1a1a" textLength="11.12" lengthAdjust="spacingAndGlyphs">0</text>
<text x="137.06" y="537.6" font-size="17.2" fill="#1a1a1a" stroke="#1a1a1a" textLength="24.86" lengthAdjust="spacingAndGlyphs">1.3</text>
<text x="206.28" y="537.6" font-size="17.2" fill="#1a1a1a" stroke="#1a1a1a" textLength="25.02" lengthAdjust="spacingAndGlyphs">3.2</text>
<text x="287.32" y="537.6" font-size="17.2" fill="#1a1a1a" stroke="#1a1a1a" textLength="15.34" lengthAdjust="spacingAndGlyphs">-1</text>
<text x="324.39" y="537.6" font-size="17.2" fill="#1a1a1a" stroke="#1a1a1a" textLength="11.24" lengthAdjust="spacingAndGlyphs">0</text>
<text x="369.48" y="537.6" font-size="17.2" fill="#1a1a1a" stroke="#1a1a1a" textLength="24.42" lengthAdjust="spacingAndGlyphs">1.3</text>
<text x="437.78" y="537.6" font-size="17.2" fill="#1a1a1a" stroke="#1a1a1a" textLength="25.02" lengthAdjust="spacingAndGlyphs">3.2</text>
<text x="58.27" y="753.9" font-size="17.2" fill="#1a1a1a" stroke="#1a1a1a" textLength="14.34" lengthAdjust="spacingAndGlyphs">-1</text>
<text x="95.30" y="753.9" font-size="17.2" fill="#1a1a1a" stroke="#1a1a1a" textLength="11.12" lengthAdjust="spacingAndGlyphs">0</text>
<text x="117.28" y="753.9" font-size="17.2" fill="#1a1a1a" stroke="#1a1a1a" textLength="25.02" lengthAdjust="spacingAndGlyphs">0.7</text>
<text x="185.65" y="753.9" font-size="17.2" fill="#1a1a1a" stroke="#1a1a1a" textLength="26.52" lengthAdjust="spacingAndGlyphs">2.5</text>
<text x="284.46" y="753.9" font-size="17.2" fill="#1a1a1a" stroke="#1a1a1a" textLength="14.67" lengthAdjust="spacingAndGlyphs">-1</text>
<text x="321.50" y="753.9" font-size="17.2" fill="#1a1a1a" stroke="#1a1a1a" textLength="11.12" lengthAdjust="spacingAndGlyphs">0</text>
<text x="343.78" y="753.9" font-size="17.2" fill="#1a1a1a" stroke="#1a1a1a" textLength="24.92" lengthAdjust="spacingAndGlyphs">0.7</text>
<text x="411.87" y="753.9" font-size="17.2" fill="#1a1a1a" stroke="#1a1a1a" textLength="25.88" lengthAdjust="spacingAndGlyphs">2.5</text>
<text x="54.83" y="773.0" font-size="17.6" fill="#1a1a1a" stroke="#1a1a1a" textLength="188.42" lengthAdjust="spacingAndGlyphs">Time from CS onset (s)</text>
<text x="284.84" y="773.0" font-size="17.6" fill="#1a1a1a" stroke="#1a1a1a" textLength="187.51" lengthAdjust="spacingAndGlyphs">Time from CS onset (s)</text>
<text transform="translate(13.8,528.34) rotate(-90)" x="0" y="0" font-size="20" fill="#1a1a1a" stroke="#1a1a1a" textLength="163.12" lengthAdjust="spacingAndGlyphs">Licking rate (/trial)</text>
<text transform="translate(13.85,740.23) rotate(-90)" x="0" y="0" font-size="20" fill="#1a1a1a" stroke="#1a1a1a" textLength="162.30" lengthAdjust="spacingAndGlyphs">Licking rate (/trial)</text>
<rect x="410.9" y="372" width="55.6" height="24.4" fill="#fff" stroke="#222" stroke-width="1"/>
<line x1="415" y1="379.1" x2="425.2" y2="379.1" stroke="#d93a2b" stroke-width="1.2"/><circle cx="420.2" cy="379.1" r="1.3" fill="#d93a2b"/>
<line x1="415" y1="390.5" x2="425.2" y2="390.5" stroke="#2e2c8c" stroke-width="1.2"/><circle cx="420.2" cy="390.5" r="1.3" fill="#2e2c8c"/>
<text x="425.90" y="382.0" font-size="11.0" fill="#1a1a1a" stroke="#1a1a1a" textLength="35.66" lengthAdjust="spacingAndGlyphs">LR trial</text>
<text x="426.30" y="392.4" font-size="11.0" fill="#1a1a1a" stroke="#1a1a1a" textLength="36.36" lengthAdjust="spacingAndGlyphs">SR trial</text>
<text x="484.83" y="337.5" font-size="25.5" fill="#231815" stroke="#231815" font-weight="bold" textLength="19.61" lengthAdjust="spacingAndGlyphs">D</text>
<path d="M544.0,762.20 h2.9 M683.8,762.20 h-2.9 M544.0,726.20 h2.9 M683.8,726.20 h-2.9 M544.0,690.20 h2.9 M683.8,690.20 h-2.9 M544.0,654.20 h2.9 M683.8,654.20 h-2.9 M544.0,618.20 h2.9 M683.8,618.20 h-2.9 M544.0,582.20 h2.9 M683.8,582.20 h-2.9 M544.0,546.20 h2.9 M683.8,546.20 h-2.9 M544.0,510.20 h2.9 M683.8,510.20 h-2.9 M544.0,474.20 h2.9 M683.8,474.20 h-2.9 M544.0,438.20 h2.9 M683.8,438.20 h-2.9 M544.0,402.20 h2.9 M683.8,402.20 h-2.9 M590.7,374.2 v2.9 M590.7,762.2 v-2.9 M637.4,374.2 v2.9 M637.4,762.2 v-2.9" stroke="#3c3c3c" stroke-width="0.9" fill="none"/>
<rect x="544.0" y="374.2" width="139.8" height="388.0" fill="none" stroke="#3c3c3c" stroke-width="1.3"/>
<path d="M591.3,396.2 V387.1 H637.1 V396.2" fill="none" stroke="#111" stroke-width="2.5"/>
<g stroke="#e0302e" stroke-width="2.6" fill="none"><line x1="590.6" y1="403.2" x2="590.6" y2="438.5"/><line x1="637.4" y1="406.6" x2="637.4" y2="461.5"/><line x1="590.6" y1="420.3" x2="637.4" y2="433.8"/></g>
<g stroke="#2b4ba5" stroke-width="2.6" fill="none"><line x1="590.6" y1="535" x2="590.6" y2="637"/><line x1="637.4" y1="546.2" x2="637.4" y2="675.4"/><line x1="590.6" y1="586.5" x2="637.4" y2="610"/></g>
<rect x="588.70" y="402.10" width="3.8" height="2.2" fill="#e0302e"/>
<rect x="588.70" y="437.40" width="3.8" height="2.2" fill="#e0302e"/>
<rect x="635.50" y="405.50" width="3.8" height="2.2" fill="#e0302e"/>
<rect x="635.50" y="460.40" width="3.8" height="2.2" fill="#e0302e"/>
<rect x="588.70" y="533.90" width="3.8" height="2.2" fill="#2b4ba5"/>
<rect x="588.70" y="635.90" width="3.8" height="2.2" fill="#2b4ba5"/>
<rect x="635.50" y="545.10" width="3.8" height="2.2" fill="#2b4ba5"/>
<rect x="635.50" y="674.30" width="3.8" height="2.2" fill="#2b4ba5"/>
<text x="644.10" y="438.6" font-size="19.7" fill="#e0302e" stroke="#e0302e" textLength="34.89" lengthAdjust="spacingAndGlyphs">N=9</text>
<text x="644.11" y="617.6" font-size="19.7" fill="#2b4ba5" stroke="#2b4ba5" textLength="34.66" lengthAdjust="spacingAndGlyphs">N=7</text>
<text x="515.15" y="408.1" font-size="19.8" fill="#1a1a1a" stroke="#1a1a1a" textLength="24.98" lengthAdjust="spacingAndGlyphs">1.0</text>
<text x="514.26" y="587.1" font-size="19.8" fill="#1a1a1a" stroke="#1a1a1a" textLength="25.79" lengthAdjust="spacingAndGlyphs">0.5</text>
<text x="528.83" y="767.5" font-size="19.8" fill="#1a1a1a" stroke="#1a1a1a" textLength="10.66" lengthAdjust="spacingAndGlyphs">0</text>
<text x="570.30" y="779.7" font-size="19.5" fill="#1a1a1a" stroke="#1a1a1a" textLength="42.35" lengthAdjust="spacingAndGlyphs">Con.</text>
<text x="619.80" y="779.7" font-size="19.5" fill="#1a1a1a" stroke="#1a1a1a" textLength="54.25" lengthAdjust="spacingAndGlyphs">SC in.</text>
<rect x="579.4" y="332.3" width="104.8" height="39" fill="#fff" stroke="#222" stroke-width="1.2"/>
<line x1="581.4" y1="341.5" x2="596.4" y2="341.5" stroke="#e0302e" stroke-width="1.4"/>
<line x1="581.4" y1="357.9" x2="597" y2="357.9" stroke="#2e2c8c" stroke-width="1.4"/>
<text x="600.58" y="348.3" font-size="17.7" fill="#1a1a1a" stroke="#1a1a1a" textLength="77.61" lengthAdjust="spacingAndGlyphs">Monkey T</text>
<text x="600.59" y="364.8" font-size="17.7" fill="#1a1a1a" stroke="#1a1a1a" textLength="78.21" lengthAdjust="spacingAndGlyphs">Monkey K</text>
<text transform="translate(509.5,660.25) rotate(-90)" x="0" y="0" font-size="19.9" fill="#1a1a1a" stroke="#1a1a1a" textLength="186.09" lengthAdjust="spacingAndGlyphs">Licking rate (LR - SR)</text>
</svg>
</body></html>
